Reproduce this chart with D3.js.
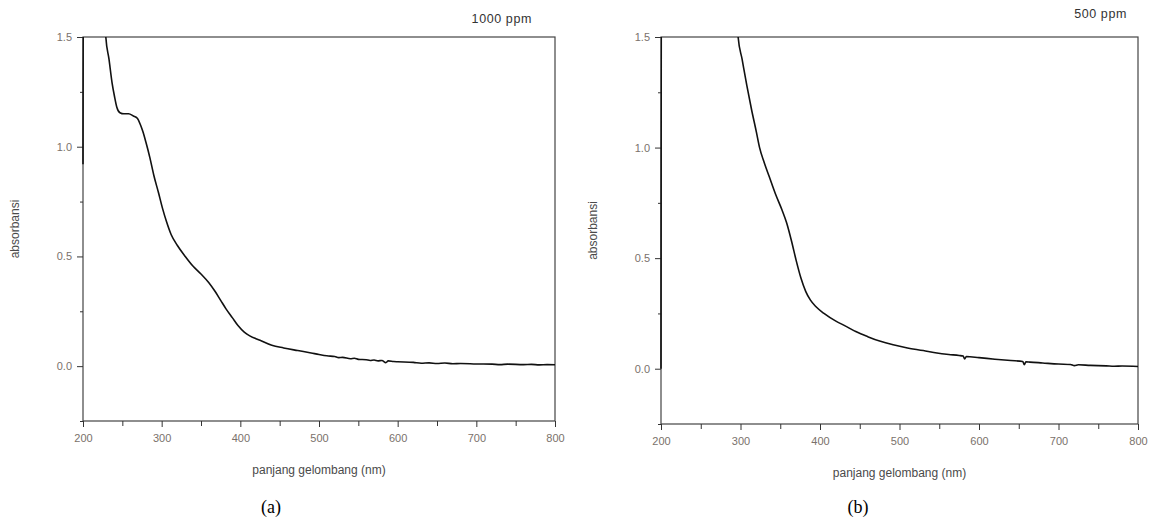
<!DOCTYPE html>
<html>
<head>
<meta charset="utf-8">
<script src="https://cdn.jsdelivr.net/npm/d3@7"></script>
<style>
  body { margin: 0; background: #fff; }
  svg { display: block; }
  .tick text { font-family: "Liberation Sans", Arial, sans-serif; font-size: 11px; fill: #7a716b; }
  .axis path, .axis line { stroke: #333; }
</style>
</head>
<body>
<div id="chart"></div>
<script>
// spectrum (a) 1000 ppm: [wavelength nm, absorbance]
const spectrumA = [
  [200, 0.92], [200.5, 1.8], [226, 1.8], [229, 1.5], [233, 1.40], [237, 1.29], [240, 1.23],
  [243, 1.18], [247, 1.155], [252, 1.15], [258, 1.15], [264, 1.14], [269, 1.13], [273, 1.10],
  [276, 1.07], [280, 1.02], [285, 0.95], [290, 0.87], [296, 0.79], [301, 0.72], [306, 0.66],
  [312, 0.60], [320, 0.55], [330, 0.50], [340, 0.455], [350, 0.42], [360, 0.38], [368, 0.34],
  [375, 0.30], [382, 0.26], [390, 0.22], [397, 0.185], [405, 0.155], [412, 0.138], [425, 0.118],
  [440, 0.095], [455, 0.083], [473, 0.071], [490, 0.06], [500, 0.053], [510, 0.047], [520, 0.044],
  [525, 0.039], [530, 0.04], [540, 0.034], [545, 0.036], [550, 0.031], [560, 0.029], [565, 0.026],
  [570, 0.028], [575, 0.024], [580, 0.026], [585, 0.016], [588, 0.024], [595, 0.021], [600, 0.02],
  [620, 0.017], [630, 0.013], [640, 0.015], [650, 0.012], [660, 0.014], [670, 0.011], [680, 0.012],
  [700, 0.01], [720, 0.009], [730, 0.007], [740, 0.009], [760, 0.007], [770, 0.008], [780, 0.006],
  [790, 0.007], [800, 0.006]
];

// spectrum (b) 500 ppm
const spectrumB = [
  [200, 0.0], [200.5, 1.8], [294, 1.8], [297, 1.5], [302, 1.40], [308, 1.28], [314, 1.17],
  [320, 1.07], [324, 1.0], [330, 0.93], [336, 0.87], [344, 0.79], [352, 0.72], [358, 0.66],
  [364, 0.58], [370, 0.49], [376, 0.41], [382, 0.35], [388, 0.31], [395, 0.28], [405, 0.25],
  [420, 0.215], [431, 0.195], [445, 0.168], [460, 0.145], [475, 0.125], [492, 0.108], [510, 0.094],
  [530, 0.082], [545, 0.072], [562, 0.064], [575, 0.06], [580, 0.057], [582, 0.044], [584, 0.055],
  [600, 0.05], [620, 0.043], [640, 0.037], [655, 0.033], [657, 0.018], [659, 0.031], [664, 0.03],
  [680, 0.026], [700, 0.021], [715, 0.019], [720, 0.014], [725, 0.018], [740, 0.015], [760, 0.013],
  [770, 0.011], [780, 0.012], [800, 0.01]
];

const xMajor = [200, 300, 400, 500, 600, 700, 800];
const xMinor = [250, 350, 450, 550, 650, 750];
const yMajor = [0.0, 0.5, 1.0, 1.5];
const yMinor = [-0.25, 0.25, 0.75, 1.25];
const xDomain = [200, 800];
const yDomain = [-0.25, 1.5];

const panels = [
  { data: spectrumA, title: "1000 ppm", caption: "(a)", left: 83, right: 555, top: 37, bottom: 421, titleX: 532, titleY: 23, capX: 271 },
  { data: spectrumB, title: "500 ppm", caption: "(b)", left: 661, right: 1138, top: 37, bottom: 424, titleX: 1127, titleY: 18, capX: 858 }
];

const svg = d3.select("#chart")
  .append("svg")
  .attr("width", 1155)
  .attr("height", 521);

panels.forEach(function(p, i) {
  const x = d3.scaleLinear().domain(xDomain).range([p.left, p.right]);
  const y = d3.scaleLinear().domain(yDomain).range([p.bottom, p.top]);
  const g = svg.append("g");

  // frame
  g.append("rect")
    .attr("x", p.left).attr("y", p.top)
    .attr("width", p.right - p.left).attr("height", p.bottom - p.top)
    .attr("fill", "none").attr("stroke", "#444").attr("stroke-width", 1.2);

  // minor ticks
  g.append("g").attr("class", "axis")
    .attr("transform", `translate(0,${p.bottom})`)
    .call(d3.axisBottom(x).tickValues(xMinor).tickSize(5).tickFormat(""))
    .call(a => a.select(".domain").remove());
  g.append("g").attr("class", "axis")
    .attr("transform", `translate(${p.left},0)`)
    .call(d3.axisLeft(y).tickValues(yMinor).tickSize(3).tickFormat(""))
    .call(a => a.select(".domain").remove());

  // major ticks
  g.append("g").attr("class", "axis")
    .attr("transform", `translate(0,${p.bottom})`)
    .call(d3.axisBottom(x).tickValues(xMajor).tickSize(6).tickPadding(7).tickFormat(d3.format("d")))
    .call(a => a.select(".domain").remove());
  g.append("g").attr("class", "axis")
    .attr("transform", `translate(${p.left},0)`)
    .call(d3.axisLeft(y).tickValues(yMajor).tickSize(6).tickPadding(5).tickFormat(d3.format(".1f")))
    .call(a => a.select(".domain").remove());

  // curve, clipped to the frame
  const clipId = "clip" + i;
  svg.append("clipPath").attr("id", clipId)
    .append("rect")
    .attr("x", p.left - 2).attr("y", p.top)
    .attr("width", p.right - p.left + 2).attr("height", p.bottom - p.top);

  const line = d3.line()
    .x(d => x(d[0]))
    .y(d => y(d[1]))
    .curve(d3.curveMonotoneX);
  g.append("path")
    .datum(p.data)
    .attr("clip-path", `url(#${clipId})`)
    .attr("fill", "none")
    .attr("stroke", "#111")
    .attr("stroke-width", 1.6)
    .attr("d", line);

  // texts
  g.append("text")
    .attr("x", (p.left + p.right) / 2).attr("y", p.bottom + 53)
    .attr("text-anchor", "middle")
    .attr("font-family", "Liberation Sans, Arial, sans-serif")
    .attr("font-size", 12).attr("fill", "#4a4a4a")
    .text("panjang gelombang (nm)");

  g.append("text")
    .attr("transform", `translate(${p.left - 64},${(p.top + p.bottom) / 2}) rotate(-90)`)
    .attr("text-anchor", "middle")
    .attr("font-family", "Liberation Sans, Arial, sans-serif")
    .attr("font-size", 12).attr("fill", "#4a4a4a")
    .text("absorbansi");

  g.append("text")
    .attr("x", p.titleX).attr("y", p.titleY)
    .attr("text-anchor", "end")
    .attr("font-family", "Liberation Sans, Arial, sans-serif")
    .attr("font-size", 12.5).attr("letter-spacing", 0.6).attr("fill", "#333")
    .text(p.title);

  g.append("text")
    .attr("x", p.capX).attr("y", 513)
    .attr("text-anchor", "middle")
    .attr("font-family", "Liberation Serif, Times New Roman, serif")
    .attr("font-size", 18).attr("fill", "#000")
    .text(p.caption);
});
</script>
</body>
</html>
